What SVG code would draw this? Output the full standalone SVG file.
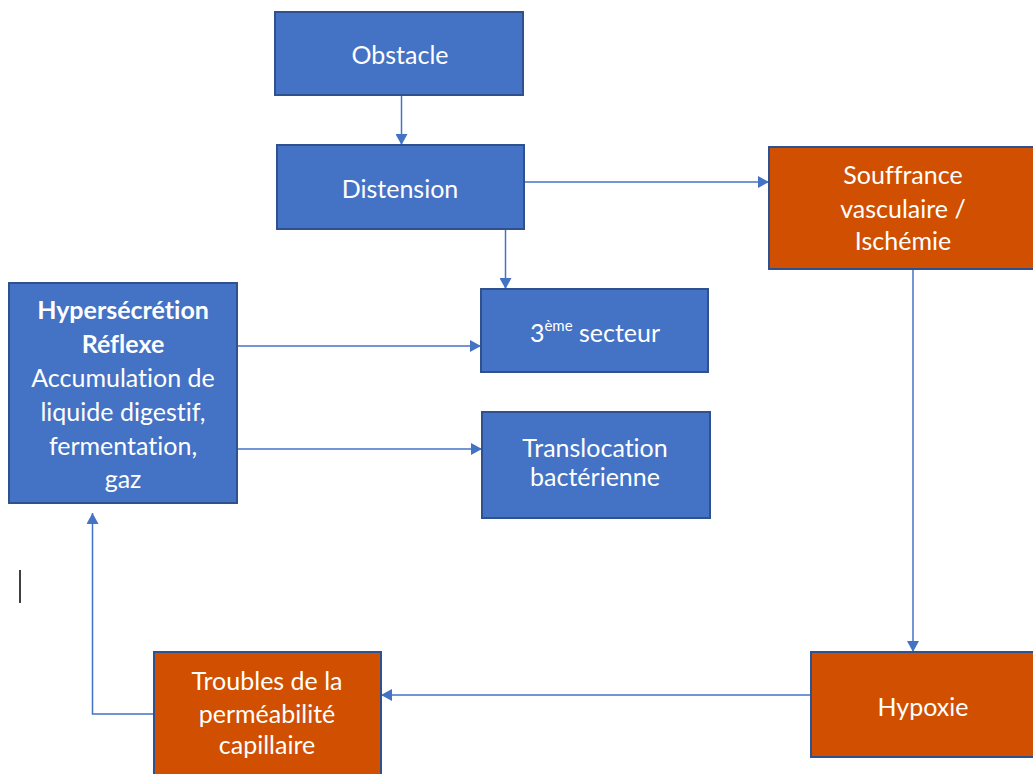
<svg xmlns="http://www.w3.org/2000/svg" width="1033" height="774" viewBox="0 0 1033 774">
<style>
.blue{fill:#4472C4;stroke:#2F528F;stroke-width:2}
.orange{fill:#D04F00;stroke:#2F528F;stroke-width:2}
.t{font-family:Lato,"Liberation Sans",sans-serif;font-size:25px;fill:#FFFFFF;text-anchor:middle;font-variant-ligatures:none}
.b{font-weight:bold}
.c{fill:none;stroke:#4472C4;stroke-width:1.5}
</style>
<defs>
<marker id="ah" markerUnits="userSpaceOnUse" markerWidth="12" markerHeight="12" refX="11" refY="6" orient="auto">
<path d="M0,0 L11,6 L0,12 z" fill="#4472C4"/>
</marker>
</defs>
<rect width="1033" height="774" fill="#FFFFFF"/>
<g id="connectors">
<path class="c" d="M401.5 95 V145" marker-end="url(#ah)"/>
<path class="c" d="M505.5 229 V289" marker-end="url(#ah)"/>
<path class="c" d="M524 182 H769" marker-end="url(#ah)"/>
<path class="c" d="M237 346 H481" marker-end="url(#ah)"/>
<path class="c" d="M237 449 H482" marker-end="url(#ah)"/>
<path class="c" d="M913 269 V652" marker-end="url(#ah)"/>
<path class="c" d="M811 695 H381" marker-end="url(#ah)"/>
<path class="c" d="M154 714 H92.5 V513" marker-end="url(#ah)"/>
</g>
<g id="obstacle">
<rect class="blue" x="275" y="12" width="248" height="83"/>
<text class="t" x="400" y="64">Obstacle</text>
</g>
<g id="distension">
<rect class="blue" x="277" y="145" width="247" height="84"/>
<text class="t" x="400" y="198">Distension</text>
</g>
<g id="souffrance">
<rect class="orange" x="769" y="147" width="268" height="122"/>
<text class="t" x="903" y="184">Souffrance</text>
<text class="t" x="903" y="218">vasculaire /</text>
<text class="t" x="903" y="250">Ischémie</text>
</g>
<g id="hypersecretion">
<rect class="blue" x="9" y="283" width="228" height="220"/>
<text class="t b" x="123" y="319">Hypersécrétion</text>
<text class="t b" x="123" y="353">Réflexe</text>
<text class="t" x="123" y="387">Accumulation de</text>
<text class="t" x="123" y="421">liquide digestif,</text>
<text class="t" x="123" y="455">fermentation,</text>
<text class="t" x="123" y="488">gaz</text>
</g>
<g id="troisieme">
<rect class="blue" x="481" y="289" width="227" height="83"/>
<text class="t" x="595" y="342">3<tspan font-size="15" dy="-11">ème</tspan><tspan dy="11"> secteur</tspan></text>
</g>
<g id="translocation">
<rect class="blue" x="482" y="412" width="228" height="106"/>
<text class="t" x="595" y="457">Translocation</text>
<text class="t" x="595" y="486">bactérienne</text>
</g>
<g id="hypoxie">
<rect class="orange" x="811" y="652" width="226" height="105"/>
<text class="t" x="923" y="716">Hypoxie</text>
</g>
<g id="troubles">
<rect class="orange" x="154" y="652" width="227" height="130"/>
<text class="t" x="267" y="690">Troubles de la</text>
<text class="t" x="267" y="723">perméabilité</text>
<text class="t" x="267" y="754">capillaire</text>
</g>
<line x1="20" y1="570" x2="20" y2="603" stroke="#000000" stroke-width="1.5"/>
</svg>
